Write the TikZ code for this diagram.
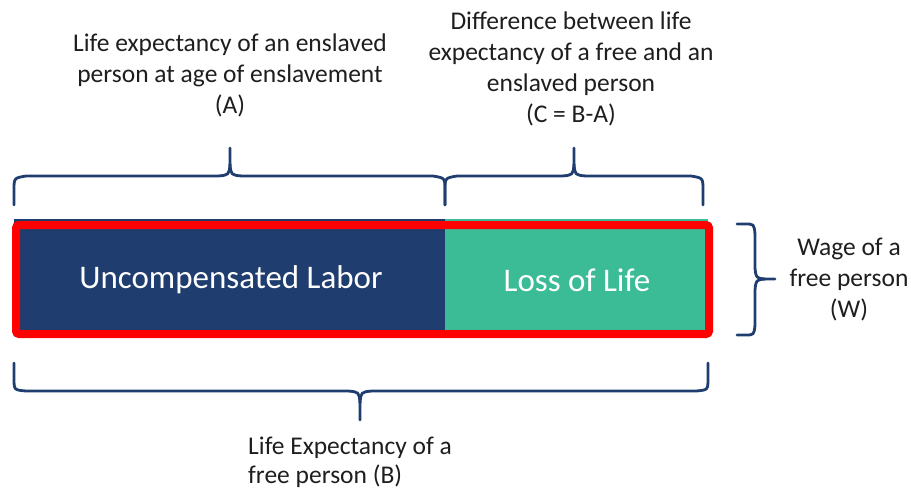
\documentclass[tikz,border=0pt]{standalone}
\usepackage{fontspec}
\setmainfont{Carlito}
\definecolor{navy}{RGB}{31,61,110}
\definecolor{teal}{RGB}{59,188,150}
\definecolor{bracecol}{RGB}{31,61,110}
\definecolor{txt}{RGB}{30,30,30}
\begin{document}
\begin{tikzpicture}[x=1pt,y=-1pt,
  brace/.style={draw=bracecol,line width=2.8pt,line cap=round,line join=round},
  lbl/.style={text=txt,font=\fontsize{25.5}{31}\selectfont,align=center,inner sep=0pt},
  bartext/.style={text=white,font=\fontsize{33}{38}\selectfont,inner sep=0pt}]
\useasboundingbox (0,0) rectangle (911,490);
% bars
\fill[navy] (14,219) rectangle (445,332);
\fill[teal] (445,219) rectangle (708,332);
\draw[red,line width=8pt,rounded corners=3pt] (16,225) rectangle (709,334);
\node[bartext] (uncomp) at (231,280) {Uncompensated Labor};
\node[bartext] (loss) at (577,280) {Loss of Life};
% top-left brace
\draw[brace] (14,205) -- (14,190) .. controls (14,178) .. (26,176) -- (218,176)
  .. controls (229,175) .. (230,164) -- (230,148);
\draw[brace] (230,164) .. controls (231,175) .. (242,176) -- (433,176)
  .. controls (445,178) .. (445,190) -- (445,205);
% top-right brace
\draw[brace] (445,205) -- (445,190) .. controls (445,178) .. (457,176) -- (562,176)
  .. controls (573,175) .. (574,164) -- (574,148);
\draw[brace] (574,164) .. controls (575,175) .. (586,176) -- (691,176)
  .. controls (703,178) .. (703,190) -- (703,205);
% bottom brace
\draw[brace] (14,363) -- (14,378) .. controls (14,390) .. (26,391) -- (348,391)
  .. controls (359,392) .. (360,403) -- (360,420);
\draw[brace] (360,403) .. controls (361,392) .. (372,391) -- (696,391)
  .. controls (708,390) .. (708,378) -- (708,363);
% right brace
\draw[brace] (737,224) -- (745,224) .. controls (754,224) .. (755,234) -- (755,268)
  .. controls (756,278) .. (765,279) -- (775,279);
\draw[brace] (765,279) .. controls (756,280) .. (755,290) -- (755,325)
  .. controls (754,335) .. (745,335) -- (737,335);
% labels
\node[lbl] (A) at (230,75) {Life expectancy of an enslaved\\person at age of enslavement\\(A)};
\node[lbl] (C) at (571,69) {Difference between life\\expectancy of a free and an\\enslaved person\\(C = B-A)};
\node[lbl] (W) at (849,280) {Wage of a\\free person\\(W)};
\node[lbl,font=\fontsize{25.5}{29}\selectfont,align=left,anchor=north west] (B) at (248,437) {Life Expectancy of a\\free person (B)};
\end{tikzpicture}
\end{document}
